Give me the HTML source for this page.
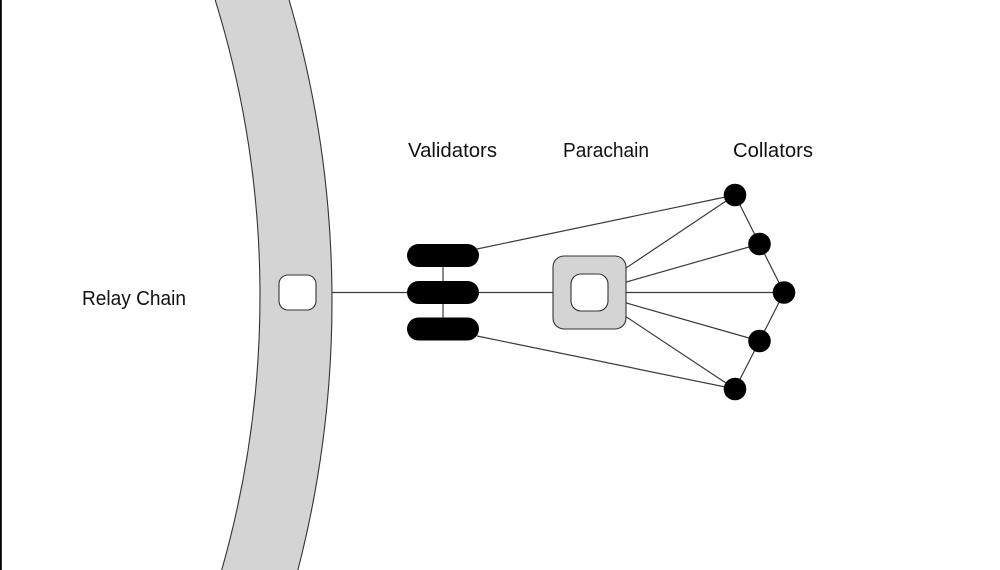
<!DOCTYPE html>
<html>
<head>
<meta charset="utf-8">
<style>
html,body{margin:0;padding:0;background:#fff;width:1000px;height:570px;overflow:hidden;}
svg{display:block;overflow:hidden;}
text{font-family:"Liberation Sans",sans-serif;fill:#111;font-size:20px;}
</style>
</head>
<body>
<svg width="1000" height="570" viewBox="0 0 1000 570" xmlns="http://www.w3.org/2000/svg">
  <rect x="0" y="0" width="1000" height="570" fill="#fff"/>

  <!-- Relay chain band -->
  <path d="M215.2 0 L289.1 0 A1078 1078 0 0 1 297.9 570 L221.7 570 A1000 1000 0 0 0 215.2 0 Z" fill="#d4d4d4"/>
  <path d="M289.1 0 A1078 1078 0 0 1 297.9 570" fill="none" stroke="#333" stroke-width="1.1"/>
  <path d="M215.2 0 A1000 1000 0 0 1 221.7 570" fill="none" stroke="#333" stroke-width="1.1"/>
  <rect x="279" y="275" width="37" height="35" rx="9" ry="9" fill="#fff" stroke="#333" stroke-width="1.1"/>
  <rect x="0" y="0" width="1.8" height="570" fill="#000"/>

  <!-- connectors -->
  <g stroke="#3a3a3a" stroke-width="1.2" fill="none">
    <line x1="332" y1="292.5" x2="589" y2="292.5"/>
    <line x1="443" y1="255" x2="443" y2="329"/>
    <line x1="477" y1="249" x2="735" y2="195"/>
    <line x1="477" y1="336" x2="735" y2="389"/>
    <line x1="589.5" y1="292.5" x2="735" y2="195"/>
    <line x1="589.5" y1="292.5" x2="759.5" y2="244"/>
    <line x1="589.5" y1="292.5" x2="784" y2="292.5"/>
    <line x1="589.5" y1="292.5" x2="759.5" y2="341"/>
    <line x1="589.5" y1="292.5" x2="735" y2="389"/>
    <polyline points="735,195 759.5,244 784,292.5 759.5,341 735,389"/>
  </g>

  <!-- validators -->
  <rect x="407" y="244" width="72" height="23" rx="11.5" ry="11.5" fill="#000"/>
  <rect x="407" y="281" width="72" height="23" rx="11.5" ry="11.5" fill="#000"/>
  <rect x="407" y="317.5" width="72" height="23" rx="11.5" ry="11.5" fill="#000"/>
  <line x1="443" y1="267" x2="443" y2="281" stroke="#555" stroke-width="1.2"/>
  <line x1="443" y1="304" x2="443" y2="317.5" stroke="#555" stroke-width="1.2"/>

  <!-- parachain -->
  <rect x="553" y="256" width="73" height="73" rx="11" ry="11" fill="#d4d4d4" stroke="#333" stroke-width="1.1"/>
  <rect x="571" y="274" width="37" height="37" rx="10" ry="10" fill="#fff" stroke="#333" stroke-width="1.1"/>

  <!-- collators -->
  <g fill="#000">
    <circle cx="735" cy="195" r="11.3"/>
    <circle cx="759.5" cy="244" r="11.3"/>
    <circle cx="784" cy="292.5" r="11.3"/>
    <circle cx="759.5" cy="341" r="11.3"/>
    <circle cx="735" cy="389" r="11.3"/>
  </g>

  <!-- labels -->
  <text x="408" y="157" textLength="89" lengthAdjust="spacingAndGlyphs">Validators</text>
  <text x="563" y="157" textLength="86" lengthAdjust="spacingAndGlyphs">Parachain</text>
  <text x="733" y="157" textLength="80" lengthAdjust="spacingAndGlyphs">Collators</text>
  <text x="82" y="305" textLength="104" lengthAdjust="spacingAndGlyphs">Relay Chain</text>
</svg>
</body>
</html>
